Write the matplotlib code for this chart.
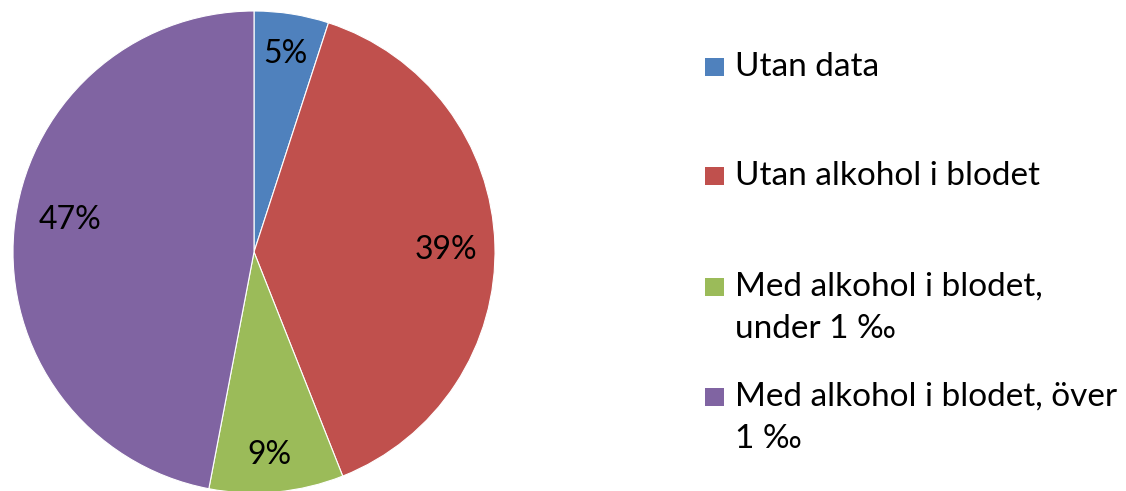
import matplotlib
matplotlib.use("Agg")
import matplotlib.pyplot as plt
from matplotlib.patches import Rectangle

categories = ["Utan data", "Utan alkohol i blodet", "Med alkohol i blodet,\nunder 1 ‰", "Med alkohol i blodet, över\n1 ‰"]
values = [5, 39, 9, 47]
colors = ["#4F81BD", "#C0504D", "#9BBB59", "#8064A2"]

W, H = 1126, 491
fig = plt.figure(figsize=(W / 100, H / 100), dpi=100)
fig.patch.set_facecolor("white")
plt.rcParams['font.family'] = ['Lato', 'DejaVu Sans']

cx, cy, r = 254, 252, 241
ax = fig.add_axes([(cx - r) / W, (H - cy - r) / H, 2 * r / W, 2 * r / H])
wedges, texts, autotexts = ax.pie(values, colors=colors, startangle=90, counterclock=False,
                                  autopct='%.0f%%', pctdistance=0.82,
                                  wedgeprops=dict(edgecolor='white', linewidth=0.8),
                                  textprops=dict(fontsize=23, color='black'))
# label placement (layout) as in the reference
label_pos = [(0.129, 0.822), (0.797, 0.008), (0.066, -0.842), (-0.763, 0.133)]
for t, p in zip(autotexts, label_pos):
    t.set_position(p)
ax.set_xlim(-1, 1)
ax.set_ylim(-1, 1)
ax.set_aspect('equal')
ax.axis('off')

# Legend (manual, to match layout)
legend_y = [67, 176, 287, 397]
line_gap = 42
tx = 735
for lab, col, y in zip(categories, colors, legend_y):
    fig.patches.append(Rectangle(((705) / W, (H - y - 9) / H), 19 / W, 18 / H,
                                 transform=fig.transFigure, facecolor=col, edgecolor='none'))
    for i, line in enumerate(lab.split("\n")):
        fig.text(tx / W, (H - y - i * line_gap) / H, line, fontsize=24, va='center', ha='left',
                 color='black')

fig.savefig("out.png", dpi=100, facecolor='white')
